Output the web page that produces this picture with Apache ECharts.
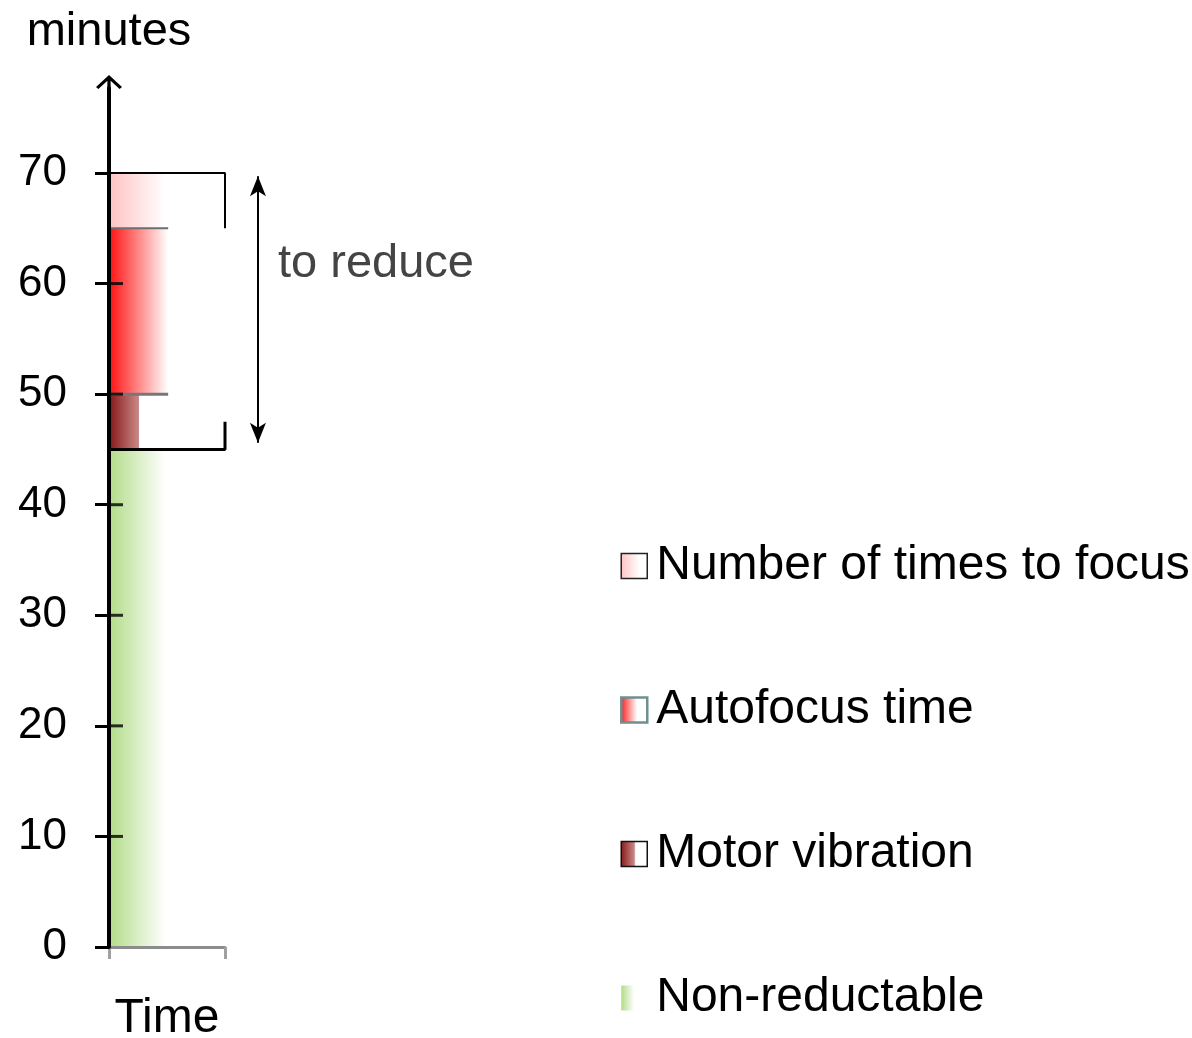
<!DOCTYPE html>
<html><head><meta charset="utf-8">
<script src="https://cdn.jsdelivr.net/npm/echarts@6/dist/echarts.min.js"></script>
<style>html,body{margin:0;padding:0;background:#fff}#c{width:1192px;height:1038px}</style>
</head><body><div id="c"></div>
<script>
// ---- data ----
const categories = ['Time'];
const seriesNames = ['Non-reductable', 'Motor vibration', 'Autofocus time', 'Number of times to focus'];
const nonReductable = [45];
const motorVibration = [5];
const autofocusTime = [15];
const timesToFocus = [5];
const yTickValues = [0, 10, 20, 30, 40, 50, 60, 70];
const yAxisName = 'minutes';
const reduceLabel = 'to reduce';

// ---- derived ----
const base = nonReductable[0];
const motorTop = base + motorVibration[0];
const autoTop = motorTop + autofocusTime[0];
const total = autoTop + timesToFocus[0];

const FONT = "'Liberation Sans', Arial, sans-serif";
const GRID_TOP = 88;
const YMAX = 70 * (947 - GRID_TOP) / 774;
const catW = 116, overlayW = 480;
const T = 'rgba(255,255,255,0)';
const ARROW = 'path://M12,0 L24,11 L21.8,13 L13.5,5.4 L13.5,24 L10.5,24 L10.5,5.4 L2.2,13 L0,11 Z';

function grad(stops) {
  return new echarts.graphic.LinearGradient(0, 0, 1, 0, stops.map(s => ({ offset: s[0], color: s[1] })));
}

const barColors = [
  grad([[0, '#b2dc88'], [0.485, '#ffffff'], [0.49, T], [1, T]]),
  grad([[0, '#861616'], [0.255, '#c98888'], [0.26, T], [1, T]]),
  grad([[0, '#ff1010'], [0.51, '#ffffff'], [0.515, T], [1, T]]),
  grad([[0, '#ffc2c2'], [0.485, '#ffffff'], [0.49, T], [1, T]])
];
const legendColors = [
  grad([[0, '#b2dc88'], [0.5, '#ffffff'], [1, '#ffffff']]),
  grad([[0, '#861616'], [0.5, '#c98888'], [0.55, '#ffffff'], [1, '#ffffff']]),
  grad([[0, '#ff1010'], [0.6, '#ffffff'], [1, '#ffffff']]),
  grad([[0, '#ffc2c2'], [0.7, '#ffffff'], [1, '#ffffff']])
];
const legendBorders = [
  { borderWidth: 0 },
  { borderColor: '#111', borderWidth: 1.5 },
  { borderColor: '#6e9090', borderWidth: 2.5 },
  { borderColor: '#222', borderWidth: 1.5 }
];
const values = [nonReductable, motorVibration, autofocusTime, timesToFocus];

const barSeries = seriesNames.map((n, i) => ({
  name: n, type: 'bar', stack: 'total', xAxisIndex: 0, yAxisIndex: 0, z: 1,
  data: values[i], barWidth: '100%', barCategoryGap: 0,
  itemStyle: { color: barColors[i] }, silent: true
}));

const chart = echarts.init(document.getElementById('c'), null, { renderer: 'canvas' });
chart.setOption({
  animation: false,
  textStyle: { fontFamily: FONT },
  grid: [
    { left: 109, width: catW, top: GRID_TOP, bottom: 91, containLabel: false, outerBoundsMode: 'none' },
    { left: 109, width: overlayW, top: GRID_TOP, bottom: 91, containLabel: false, outerBoundsMode: 'none' }
  ],
  xAxis: [
    {
      type: 'category', gridIndex: 0, data: categories, zlevel: 1,
      axisLine: { lineStyle: { color: '#8c8c8c', width: 3 } },
      axisTick: { show: true, length: 12, lineStyle: { color: '#a0a0a0', width: 3 } },
      axisLabel: { fontSize: 48, color: '#000', margin: 48, fontFamily: FONT }
    },
    { type: 'value', gridIndex: 1, min: 0, max: overlayW / catW, show: false }
  ],
  yAxis: [
    {
      type: 'value', gridIndex: 0, min: 0, max: YMAX, zlevel: 1, z: 5,
      name: yAxisName, nameLocation: 'end', nameGap: 32,
      nameTextStyle: { fontSize: 47, color: '#000', fontFamily: FONT },
      axisLine: { show: true, symbol: ['none', ARROW], symbolSize: [26, 26], lineStyle: { color: '#000', width: 4 } },
      axisTick: { show: true, length: 14, customValues: yTickValues, lineStyle: { color: '#000', width: 3 } },
      axisLabel: { customValues: yTickValues, fontSize: 44, color: '#000', margin: 42, fontFamily: FONT },
      splitLine: { show: false }
    },
    { type: 'value', gridIndex: 1, min: 0, max: YMAX, show: false }
  ],
  legend: {
    orient: 'vertical', left: 615, top: 533, itemWidth: 26, itemHeight: 25, itemGap: 88,
    selectedMode: false, icon: 'rect',
    textStyle: { fontSize: 48, color: '#000', lineHeight: 56, fontFamily: FONT, padding: [0, 0, 0, 4] },
    data: [3, 2, 1, 0].map(i => ({ name: seriesNames[i], itemStyle: Object.assign({ color: legendColors[i] }, legendBorders[i]) }))
  },
  graphic: [
    { type: 'text', left: 278, top: 241, style: { text: reduceLabel, fill: '#444', font: '47px ' + FONT } }
  ],
  series: barSeries.concat([
    {
      name: 'boxTop', type: 'line', xAxisIndex: 1, yAxisIndex: 1, symbol: 'none', silent: true, z: 5,
      data: [[0, total], [1, total], [1, autoTop]],
      lineStyle: { color: '#000', width: 2 },
      markLine: {
        silent: true, symbol: ['arrow', 'arrow'], symbolSize: [12, 20],
        label: { show: false },
        lineStyle: { color: '#000', width: 2, type: 'solid' },
        data: [[{ coord: [1.284, base + 0.6] }, { coord: [1.284, total - 0.3] }]]
      }
    },
    {
      name: 'boxBottom', type: 'line', xAxisIndex: 1, yAxisIndex: 1, symbol: 'none', silent: true, z: 5,
      data: [[1, base + motorVibration[0] / 2], [1, base], [0, base]],
      lineStyle: { color: '#000', width: 3 }
    },
    {
      name: 'edgeAuto', type: 'line', xAxisIndex: 1, yAxisIndex: 1, symbol: 'none', silent: true, z: 4,
      data: [[0, autoTop], [0.51, autoTop]],
      lineStyle: { color: '#6e6e6e', width: 2 }
    },
    {
      name: 'edgeMotor', type: 'line', xAxisIndex: 1, yAxisIndex: 1, symbol: 'none', silent: true, z: 4,
      data: [[0, motorTop], [0.51, motorTop]],
      lineStyle: { color: '#777', width: 3 }
    },
    {
      // inner halves of the y-axis ticks (crossing the axis line)
      name: 'innerTicks', type: 'scatter', xAxisIndex: 1, yAxisIndex: 1, silent: true, z: 6,
      data: yTickValues.slice(1, -1).map(v => [0, v]),
      symbol: 'rect', symbolSize: [14, 3], symbolOffset: [7, 0],
      itemStyle: { color: '#000' }
    }
  ])
});
</script>
</body></html>
